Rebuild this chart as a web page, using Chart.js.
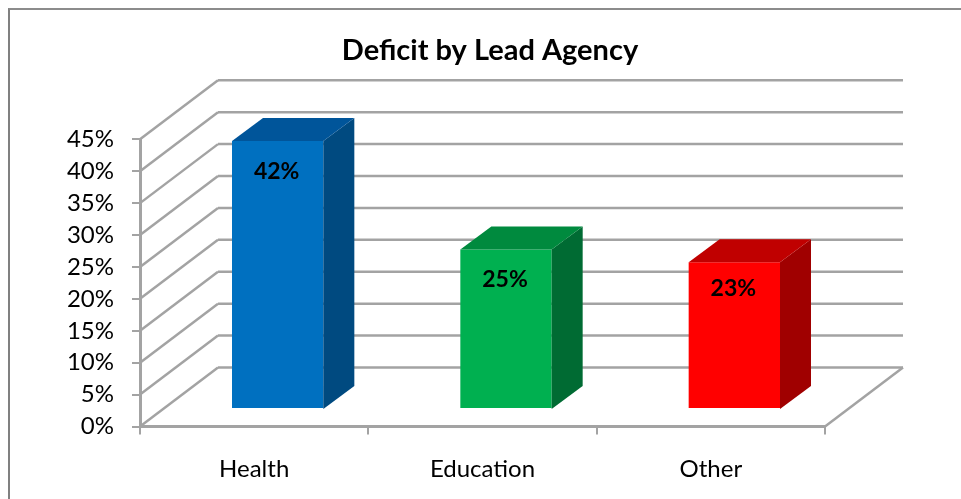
<!DOCTYPE html>
<html>
<head>
<meta charset="utf-8">
<title>Deficit by Lead Agency</title>
<script src="https://cdn.jsdelivr.net/npm/chart.js@4"></script>
<style>
    html, body { margin: 0; padding: 0; background: #fff; overflow: hidden; }
    #frame { position: absolute; left: 8px; top: 8px; right: 0; bottom: 0; border-left: 2px solid #808080; border-top: 2px solid #8c8c8c; }
    canvas { position: absolute; left: 0; top: 0; }
</style>
</head>
<body>
<div id="frame"></div>
<canvas id="deficitChart" width="961" height="499"></canvas>
<script>
const categories = ['Health', 'Education', 'Other'];
const deficitShare = [42, 25, 23];
const yTicks = [0, 5, 10, 15, 20, 25, 30, 35, 40, 45];

const frontColors = ['#0070c0', '#00b050', '#ff0000'];
const topColors = ['#00559a', '#008a3e', '#c00000'];
const sideColors = ['#004a80', '#006b33', '#a00000'];

// fake 3D: how far the back wall and the bars are pushed from the front plane
const WALL_DX = 78, WALL_DY = -59;
const BAR_DX = 23.5, BAR_DY = -17.5;
const BAR_SIDE_DX = 31, BAR_SIDE_DY = -23;
const GRID_COLOR = '#a3a3a3';
const LABEL_DROP = [31, 30, 26];

const line = (ctx, x1, y1, x2, y2) => {
    ctx.beginPath();
    ctx.moveTo(x1, y1);
    ctx.lineTo(x2, y2);
    ctx.stroke();
};

const poly = (ctx, points, color) => {
    ctx.fillStyle = color;
    ctx.beginPath();
    points.forEach((p, i) => i ? ctx.lineTo(p[0], p[1]) : ctx.moveTo(p[0], p[1]));
    ctx.closePath();
    ctx.fill();
};

const fake3d = {
    id: 'fake3d',
    afterLayout(chart) {
        // title is centred over the whole plot including the back wall
        chart.titleBlock.left = 0;
        chart.titleBlock.right = 980;
    },
    beforeDatasetsDraw(chart) {
        const { ctx, chartArea: area, scales: { y } } = chart;
        ctx.save();
        ctx.strokeStyle = GRID_COLOR;
        ctx.lineWidth = 2.5;
        yTicks.forEach(v => {
            const py = y.getPixelForValue(v);
            line(ctx, area.left, py, area.left + WALL_DX, py + WALL_DY);
            line(ctx, area.left + WALL_DX, py + WALL_DY, area.right + WALL_DX, py + WALL_DY);
        });
        // floor edge on the right
        line(ctx, area.right, area.bottom, area.right + WALL_DX, area.bottom + WALL_DY);
        ctx.restore();

        // the bars themselves sit a bit behind the front plane
        ctx.save();
        ctx.translate(BAR_DX, BAR_DY);
    },
    afterDatasetsDraw(chart) {
        const { ctx, scales: { y } } = chart;
        const bars = chart.getDatasetMeta(0).data;
        ctx.restore();

        ctx.save();
        ctx.font = 'bold 23px Lato';
        ctx.textAlign = 'center';
        ctx.textBaseline = 'middle';
        bars.forEach((bar, i) => {
            const half = bar.width / 2;
            const left = bar.x + BAR_DX - half;
            const right = bar.x + BAR_DX + half;
            const top = bar.y + BAR_DY;
            const bottom = y.getPixelForValue(0) + BAR_DY;
            const sx = BAR_SIDE_DX, sy = BAR_SIDE_DY;
            poly(ctx, [[right, top], [right + sx, top + sy], [right + sx, bottom + sy], [right, bottom]], sideColors[i]);
            poly(ctx, [[left, top], [left + sx, top + sy], [right + sx, top + sy], [right, top]], topColors[i]);
            ctx.fillStyle = '#000';
            ctx.fillText(deficitShare[i] + '%', bar.x + BAR_DX - 1, top + LABEL_DROP[i]);
        });
        ctx.restore();
    }
};

new Chart(document.getElementById('deficitChart'), {
    type: 'bar',
    data: {
        labels: categories,
        datasets: [{
            data: deficitShare,
            backgroundColor: frontColors,
            barPercentage: 0.4,
            categoryPercentage: 1,
            clip: false
        }]
    },
    plugins: [fake3d],
    options: {
        responsive: false,
        animation: false,
        layout: { padding: { left: 0, right: 136, top: 33, bottom: 0 } },
        plugins: {
            legend: { display: false },
            tooltip: { enabled: false },
            title: {
                display: true,
                text: 'Deficit by Lead Agency',
                color: '#000',
                font: { family: 'Lato', size: 29, weight: 'bold' },
                padding: { top: 0, bottom: 71.5 }
            }
        },
        scales: {
            x: {
                afterFit(scale) { scale.height = 72.5; },
                grid: { drawOnChartArea: false, color: GRID_COLOR, lineWidth: 2, tickLength: 8 },
                border: { color: GRID_COLOR, width: 3 },
                ticks: { color: '#000', font: { family: 'Lato', size: 24 }, padding: 20, maxRotation: 0 }
            },
            y: {
                min: 0,
                max: 45,
                afterFit(scale) { scale.width = 140; },
                afterBuildTicks(scale) { scale.ticks = yTicks.map(v => ({ value: v })); },
                grid: { drawOnChartArea: false, color: GRID_COLOR, lineWidth: 2, tickLength: 8 },
                border: { color: GRID_COLOR, width: 3 },
                ticks: {
                    color: '#000',
                    font: { family: 'Lato', size: 24 },
                    padding: 18,
                    callback: v => v + '%'
                }
            }
        }
    }
});
</script>
</body>
</html>
